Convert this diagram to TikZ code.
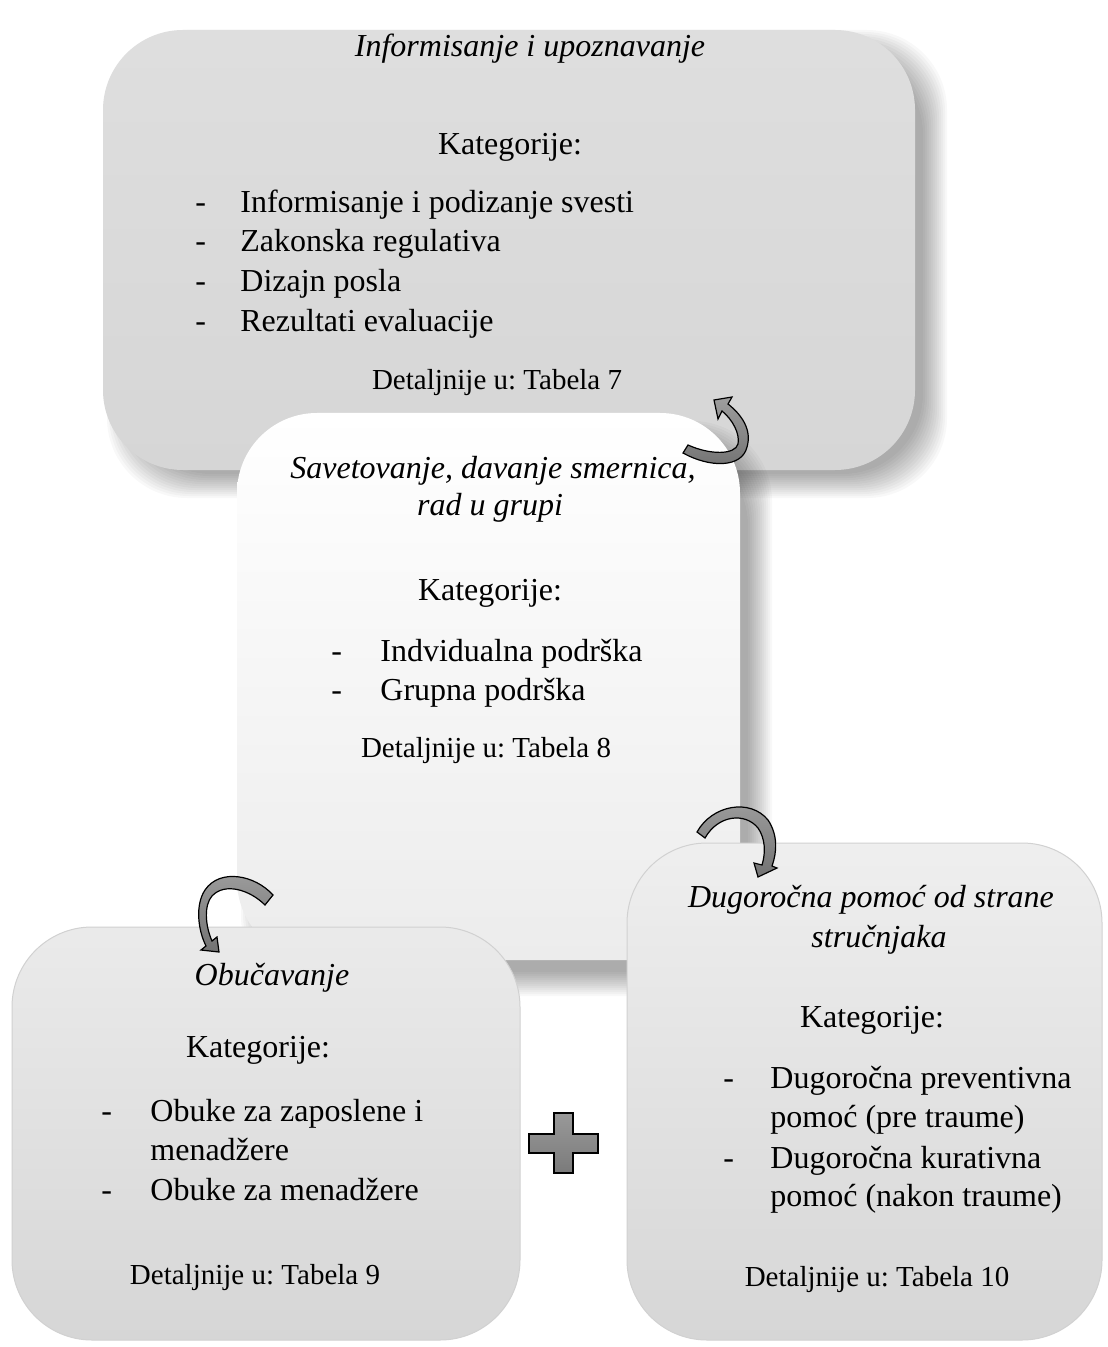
\documentclass[tikz,border=0pt]{standalone}
\usepackage{fontspec}
\setmainfont{Liberation Serif}
\frenchspacing
\definecolor{boxgray}{RGB}{214,214,214}
\definecolor{boxlight}{RGB}{236,236,236}
\begin{document}
\begin{tikzpicture}[x=0.5pt,y=-0.5pt,
  boxbase/.style={rectangle, rounded corners=40pt, inner sep=0pt, draw=none},
  softshade/.style={black, opacity=0.028, rounded corners=40pt},
  big/.style={font=\fontsize{16}{20}\selectfont, inner sep=0pt, anchor=base},
  bigl/.style={big, anchor=base west},
  ital/.style={font=\fontsize{16}{20}\selectfont\itshape, inner sep=0pt, anchor=base},
  small/.style={font=\fontsize{14.5}{18}\selectfont, inner sep=0pt, anchor=base},
  curvarrow/.style={draw=black, line width=0.6pt, top color=black!38, bottom color=black!55, line join=miter},
  plusshape/.style={draw=black, line width=1.1pt, top color=black!40, bottom color=black!52}
]
\useasboundingbox (0,0) rectangle (1107,1347);
\fill[white] (0,0) rectangle (1107,1347);

% soft shadows of boxes 1 and 2
\foreach \k in {-10,-8,...,14} {
  \fill[softshade] (121-\k,44-\k) rectangle (933+\k,484+\k);
}
% Box 1
\node[boxbase, minimum width=406pt, minimum height=220pt,
      top color=boxgray!80!white, bottom color=boxgray] (box1) at (509,250) {};
\foreach \k in {-10,-8,...,14} {
  \fill[softshade] (255-\k,435-\k) rectangle (758+\k,982+\k);
}
% Box 2
\node[boxbase, minimum width=251.5pt, minimum height=273.5pt,
      top color=white, bottom color=boxlight] (box2) at (488.5,686.5) {};
% Box 3
\node[boxbase, draw=black!18, line width=0.5pt, minimum width=254pt, minimum height=206.5pt,
      top color=boxgray!50!white, bottom color=boxgray] (box3) at (266,1133.5) {};
% Box 4
\node[boxbase, draw=black!18, line width=0.5pt, minimum width=237.5pt, minimum height=248.5pt,
      top color=boxgray!40!white, bottom color=boxgray] (box4) at (864.5,1091.5) {};

% curved block arrows
\draw[curvarrow] (683,453) .. controls (710,468) and (742,468) .. (747,447)
  .. controls (752,430) and (742,415) .. (728,404) -- (732,397) -- (714,400)
  -- (718,419) -- (722,411) .. controls (733,420) and (740,434) .. (738,444)
  .. controls (735,455) and (710,455) .. (688,445) -- cycle;
\draw[curvarrow] (697,832) .. controls (712,805) and (750,798) .. (768,820)
  .. controls (778,835) and (777,852) .. (772,866) -- (777,868) -- (758,877)
  -- (754,863) -- (762,865) .. controls (766,852) and (765,838) .. (758,828)
  .. controls (745,812) and (718,815) .. (705,838) -- cycle;
\draw[curvarrow] (273,895) .. controls (255,875) and (220,868) .. (205,890)
  .. controls (195,905) and (198,930) .. (206,946) -- (201,950) -- (219,952)
  -- (217,937) -- (212,941) .. controls (205,925) and (204,905) .. (212,896)
  .. controls (225,882) and (250,890) .. (265,905) -- cycle;

% plus sign
\draw[plusshape] (554,1113) -- (573,1113) -- (573,1134) -- (598,1134) -- (598,1153)
  -- (573,1153) -- (573,1173) -- (554,1173) -- (554,1153) -- (529,1153)
  -- (529,1134) -- (554,1134) -- cycle;

% Box 1 text
\node[ital] (t1title) at (530,57) {Informisanje i upoznavanje};
\node[big] (t1kat) at (510,155) {Kategorije:};
\node[bigl] (t1d1) at (195,213) {-};
\node[bigl] (t1i1) at (240,213) {Informisanje i podizanje svesti};
\node[bigl] (t1d2) at (195,252) {-};
\node[bigl] (t1i2) at (240,252) {Zakonska regulativa};
\node[bigl] (t1d3) at (195,292) {-};
\node[bigl] (t1i3) at (240,292) {Dizajn posla};
\node[bigl] (t1d4) at (195,332) {-};
\node[bigl] (t1i4) at (240,332) {Rezultati evaluacije};
\node[small] (t1det) at (497,390) {Detaljnije u: Tabela 7};

% Box 2 text
\node[ital] (t2title1) at (493,478) {Savetovanje, davanje smernica,};
\node[ital] (t2title2) at (490,515) {rad u grupi};
\node[big] (t2kat) at (490,600) {Kategorije:};
\node[bigl] (t2d1) at (331,661) {-};
\node[bigl] (t2i1) at (380,661) {Indvidualna podrška};
\node[bigl] (t2d2) at (331,700) {-};
\node[bigl] (t2i2) at (380,700) {Grupna podrška};
\node[small] (t2det) at (486,757) {Detaljnije u: Tabela 8};

% Box 3 text
\node[ital] (t3title) at (272,985) {Obučavanje};
\node[big] (t3kat) at (258,1057) {Kategorije:};
\node[bigl] (t3d1) at (101,1121) {-};
\node[bigl] (t3i1) at (150,1121) {Obuke za zaposlene i};
\node[bigl] (t3i1b) at (150,1160) {menadžere};
\node[bigl] (t3d2) at (101,1200) {-};
\node[bigl] (t3i2) at (150,1200) {Obuke za menadžere};
\node[small] (t3det) at (255,1284) {Detaljnije u: Tabela 9};

% Box 4 text
\node[ital] (t4title1) at (871,907) {Dugoročna pomoć od strane};
\node[ital] (t4title2) at (879,947) {stručnjaka};
\node[big] (t4kat) at (872,1027) {Kategorije:};
\node[bigl] (t4d1) at (723,1088) {-};
\node[bigl] (t4i1) at (770,1088) {Dugoročna preventivna};
\node[bigl] (t4i1b) at (770,1127) {pomoć (pre traume)};
\node[bigl] (t4d2) at (723,1168) {-};
\node[bigl] (t4i2) at (770,1168) {Dugoročna kurativna};
\node[bigl] (t4i2b) at (770,1206) {pomoć (nakon traume)};
\node[small] (t4det) at (877,1286) {Detaljnije u: Tabela 10};
\end{tikzpicture}
\end{document}
